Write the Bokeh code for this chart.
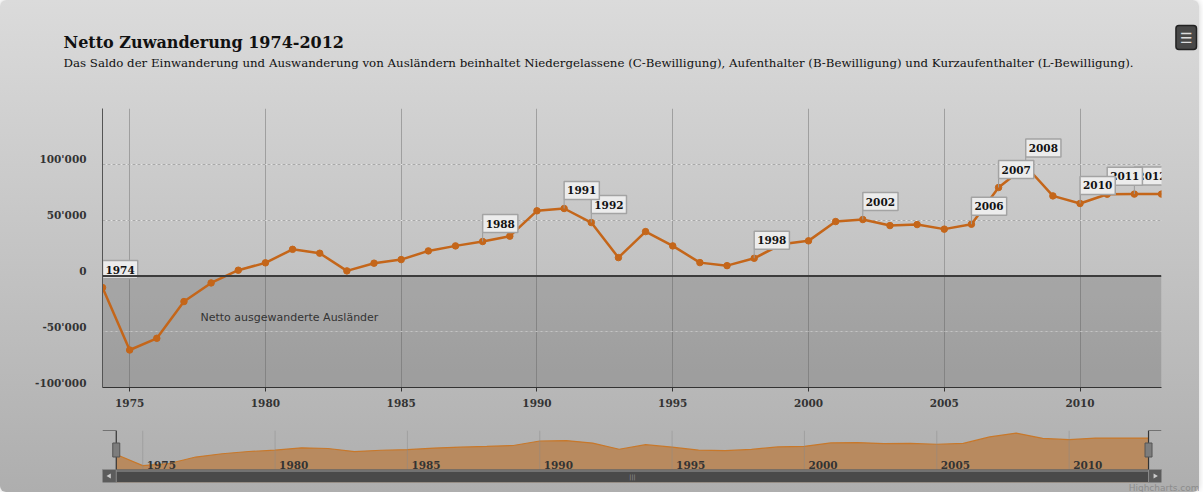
from bokeh.plotting import figure
from bokeh.models import (Range1d, FixedTicker, LinearAxis, Grid, Span, BoxAnnotation,
                          Label, Title, ColumnDataSource)
from bokeh.layouts import column
from bokeh.core.properties import value
from bokeh.embed import file_html
from bokeh.resources import INLINE

# ---------------- data ----------------
years = list(range(1974, 2014))
net_migration = [-10500, -66400, -55900, -23000, -6300, 5100, 11700, 23800, 20300, 4500,
                 11400, 14600, 22400, 26900, 30800, 35600, 58300, 60400, 47800, 16400,
                 39700, 26900, 11900, 9200, 15800, 28300, 31400, 48700, 50500, 45100,
                 46000, 41900, 46300, 79200, 98500, 71700, 64900, 73200, 73300, 73300]
flag_years = [1974, 1988, 1991, 1992, 1998, 2002, 2006, 2007, 2008, 2010, 2011, 2012]
x_ticks = [1975, 1980, 1985, 1990, 1995, 2000, 2005, 2010]
x_tick_labels = [str(t) for t in x_ticks]
y_ticks = [-100000, -50000, 0, 50000, 100000]
y_tick_labels = ["-100'000", "-50'000", "0", "50'000", "100'000"]
y_grid_ticks = [-100000, -50000, 0, 50000, 100000, 150000]

title_text = "Netto Zuwanderung 1974-2012"
subtitle_text = ("Das Saldo der Einwanderung und Auswanderung von Ausländern beinhaltet "
                 "Niedergelassene (C-Bewilligung), Aufenthalter (B-Bewilligung) und "
                 "Kurzaufenthalter (L-Bewilligung).")
band_text = "Netto ausgewanderte Ausländer"
credit_text = "Highcharts.com"

# ---------------- styling ----------------
SERIF = "DejaVu Serif"
SANS = "DejaVu Sans"
LINE_COLOR = "#c4661a"
Y0, Y1 = -100000, 150000
FRAME_H = 279
px = (Y1 - Y0) / FRAME_H           # data units per pixel (main)
LABEL_SHIFT = 5 * px               # y labels sit 5px above their grid line
STEM = 9 * px                      # flag stem length

W = 1199
p = figure(width=W, height=420, x_range=Range1d(1974, 2013), y_range=Range1d(Y0, Y1),
           title=None, output_backend="svg", toolbar_location=None, y_axis_location=None,
           min_border_left=102, min_border_right=38, min_border_top=108, min_border_bottom=33)
p.background_fill_color = None
p.border_fill_color = None
p.outline_line_color = None

# titles: "above" items stack outward from the frame in the order they are added
p.add_layout(Title(text=subtitle_text, text_font=SERIF, text_font_style="normal",
                   text_font_size="11.8px", text_color="#111111", align="left",
                   offset=-39, standoff=78), "above")
p.add_layout(Title(text=title_text, text_font=SERIF, text_font_style="bold",
                   text_font_size="16px", text_color="#111111", align="left",
                   offset=-39, standoff=-74), "above")
p.add_layout(Title(text="\u2630", text_font=SANS, text_font_size="14px",
                   text_color="#dddddd", align="right", offset=-35, standoff=-70,
                   background_fill_color="#484848", border_line_color="#222222",
                   border_line_width=1.5, padding=4, border_radius=3), "above")

# plot band below zero
p.add_layout(BoxAnnotation(bottom=Y0, top=0, fill_color="#000000", fill_alpha=0.14,
                           line_color=None, level="underlay"))

# grids
p.xgrid.ticker = FixedTicker(ticks=x_ticks)
p.xgrid.grid_line_color = "#8f8f8f"
p.xgrid.grid_line_alpha = 0.75
ygrid = Grid(dimension=1, ticker=FixedTicker(ticks=y_grid_ticks), grid_line_color="#a9a9a9",
             grid_line_dash="3 2", grid_line_width=1)
p.add_layout(ygrid)

# x axis
xa = p.xaxis[0]
xa.ticker = FixedTicker(ticks=x_ticks)
xa.major_label_overrides = dict(zip(x_ticks, x_tick_labels))
xa.axis_line_color = "#333333"
xa.major_tick_line_color = "#333333"
xa.major_tick_out = 4
xa.major_tick_in = 0
xa.minor_tick_line_color = None
xa.major_label_standoff = 7
xa.major_label_text_font = SERIF
xa.major_label_text_font_style = "bold"
xa.major_label_text_font_size = "10.5px"
xa.major_label_text_color = "#333333"

# y axis (on a range shifted by a few pixels so labels sit above grid lines)
p.extra_y_ranges = {"lab": Range1d(Y0 - LABEL_SHIFT, Y1 - LABEL_SHIFT)}
ya = LinearAxis(y_range_name="lab", ticker=FixedTicker(ticks=y_ticks),
                major_label_overrides=dict(zip(y_ticks, y_tick_labels)))
ya.axis_line_color = "#555555"
ya.major_tick_line_color = None
ya.minor_tick_line_color = None
ya.major_label_standoff = 10
ya.major_label_text_font = SERIF
ya.major_label_text_font_style = "bold"
ya.major_label_text_font_size = "10.5px"
ya.major_label_text_color = "#333333"
p.add_layout(ya, "left")

# zero line
p.add_layout(Span(location=0, dimension="width", line_color="#3c3c3c", line_width=2))

# band label
p.add_layout(Label(x=1974, y=0, x_offset=98, y_offset=-42, text=band_text,
                   text_font=SANS, text_font_size="11px", text_color="#333333",
                   text_baseline="middle", text_align="left"))

# series
src = ColumnDataSource(dict(x=years, y=net_migration))
p.line("x", "y", source=src, line_color=LINE_COLOR, line_width=2.5)
p.scatter("x", "y", source=src, size=6.5, fill_color=LINE_COLOR, line_color=LINE_COLOR)

# flags (drawn in reverse so earlier flags sit on top)
lookup = dict(zip(years, net_migration))
for yr in reversed(flag_years):
    v = lookup[yr]
    p.segment(x0=[yr], y0=[v], x1=[yr], y1=[v + STEM], line_color="#9a9a9a", line_width=1)
    p.text(x=[yr], y=[v + STEM], text=[str(yr)], text_align="left", text_baseline="bottom",
           text_font=value(SERIF), text_font_style="bold", text_font_size="10.5px",
           text_color="#111111", background_fill_color="#ececec",
           border_line_color="#a3a3a3", border_line_width=1.5,
           padding=dict(x=3, y=5))

# ---------------- navigator ----------------
NX0, NX1 = 1973.48, 2013.49
NY0, NY1 = -152300, 111700
nav = figure(width=W, height=72, x_range=Range1d(NX0, NX1), y_range=Range1d(NY0, NY1),
             title=None, output_backend="svg", toolbar_location=None, x_axis_location=None,
             y_axis_location=None, min_border_left=102, min_border_right=38,
             min_border_top=10, min_border_bottom=10)
nav.background_fill_color = None
nav.border_fill_color = None
nav.outline_line_color = None
nav.grid.visible = False
nav.extra_y_ranges = {"px": Range1d(52, 0)}

nav.varea(x=years, y1=[NY0] * len(years), y2=net_migration, fill_color="#b88a5f")
nav.line(x=years, y=net_migration, line_color="#c8782a", line_width=1.2)
nav.segment(x0=x_ticks, y0=[0] * len(x_ticks), x1=x_ticks, y1=[39] * len(x_ticks),
            y_range_name="px", line_color="#8a8a8a", line_alpha=0.45, line_width=1)
nav.text(x=x_ticks, y=[34] * len(x_ticks), text=x_tick_labels, y_range_name="px",
         x_offset=4, text_baseline="alphabetic", text_align="left",
         text_font=value(SERIF), text_font_style="bold", text_font_size="10.5px",
         text_color="#333333")

# scrollbar
nav.quad(left=[NX0], right=[NX1], top=[39], bottom=[52], y_range_name="px",
         fill_color="#4a4a4a", line_color=None)
nav.quad(left=[NX0], right=[NX1], top=[39], bottom=[41.5], y_range_name="px",
         fill_color="#727272", line_color=None)
nav.quad(left=[NX0, years[-1]], right=[years[0], NX1], top=[39, 39], bottom=[52, 52],
         y_range_name="px", fill_color="#5c5c5c", line_color="#8a8a8a", line_width=1)
nav.scatter(x=[(NX0 + years[0]) / 2, (years[-1] + NX1) / 2], y=[45.5, 45.5],
            y_range_name="px", marker="triangle", angle=[1.5708, -1.5708], size=5,
            fill_color="#cccccc", line_color=None)
nav.text(x=[(years[0] + years[-1]) / 2], y=[45.5], text=["|||"], y_range_name="px",
         text_align="center", text_baseline="middle", text_font=value(SANS),
         text_font_size="6px", text_color="#9a9a9a")

# navigator outline and handles
nav.multi_line(xs=[[NX0, years[0], years[0]], [NX1, years[-1], years[-1]]],
               ys=[[0, 0, 39], [0, 0, 39]], y_range_name="px",
               line_color="#333333", line_width=1.2)
nav.rect(x=[years[0], years[-1]], y=[19.5, 19.5], width=7, height=14,
         width_units="screen", height_units="screen", y_range_name="px",
         fill_color="#7d7d7d", line_color="#555555", line_width=1)

# credits
nav.add_layout(Title(text=credit_text, text_font=SANS, text_font_size="9px",
                     text_font_style="normal", text_color="#8c8c8c", align="right",
                     offset=-38, standoff=-20), "below")

layout = column(p, nav, styles={
    "background": "linear-gradient(to bottom, #dbdbdb 0%, #aeaeae 100%)",
    "border-radius": "6px",
    "box-shadow": "0 0 6px rgba(0,0,0,0.18)",
})

open("out.html", "w").write(file_html(layout, INLINE))
